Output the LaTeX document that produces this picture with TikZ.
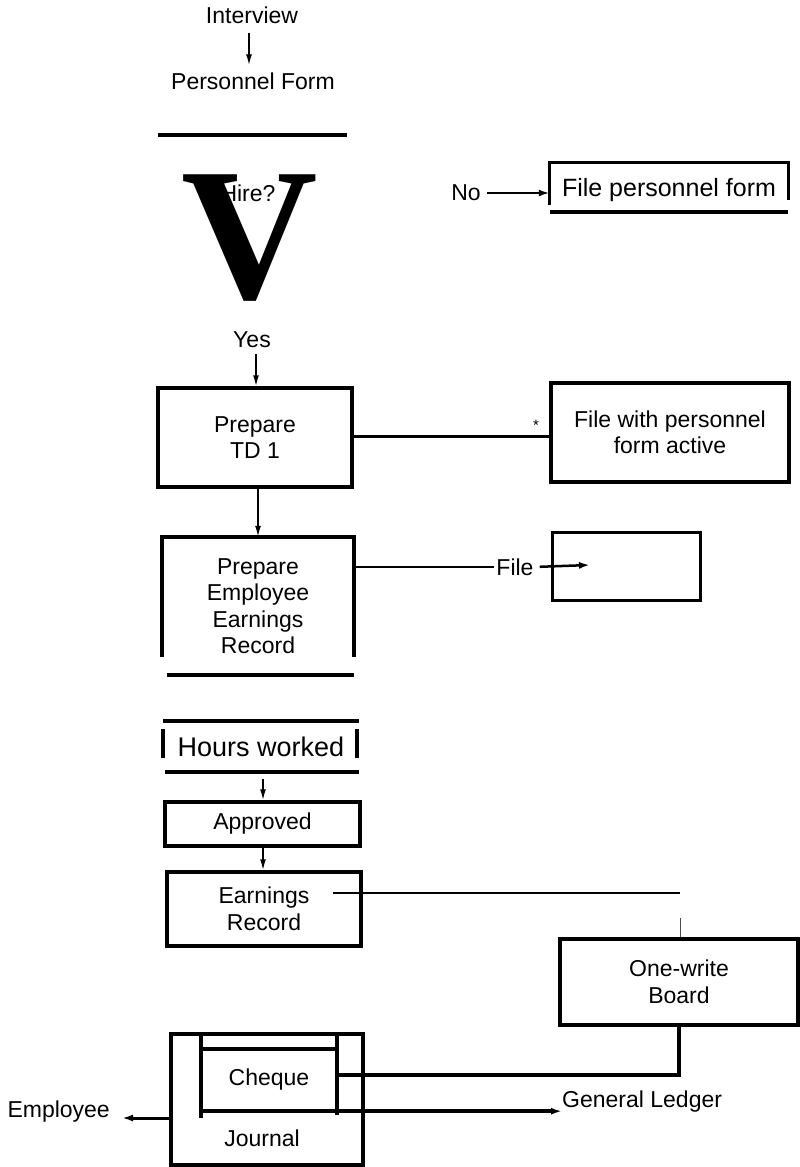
\documentclass[tikz,border=0pt]{standalone}
\usepackage{fontspec}
\setmainfont{Liberation Sans}
\newfontfamily\vfont{Liberation Serif}
\usetikzlibrary{arrows.meta}
\begin{document}
\begin{tikzpicture}[x=1pt,y=-1pt,
  lbl/.style={font=\fontsize{23}{26}\selectfont, inner sep=0pt, align=center},
  frame/.style={draw, line width=3.5pt, inner sep=0pt, align=center, font=\fontsize{23}{26.5}\selectfont},
  ghost/.style={inner sep=0pt, align=center, font=\fontsize{23}{26.5}\selectfont},
  rulel/.style={line width=4.5pt},
  side/.style={line width=3.5pt},
  arr/.style={-{Latex[length=11pt,width=6pt]}, line width=1.6pt},
  barr/.style={-{Latex[length=11pt,width=7pt]}, line width=2.5pt}]
\useasboundingbox (0,0) rectangle (800,1167);

% --- top
\node[lbl] (iv) at (252,15) {Interview};
\node[lbl] (pf) at (253,81) {Personnel Form};
\draw[arr, shorten <=9pt, shorten >=7pt] (iv.south -| 249,0) -- (pf.north -| 249,0);
\draw[rulel] (158,135) -- (347,135);

% --- decision
\node[lbl] (hire) at (248,193) {Hire?};
\node[inner sep=0pt, anchor=base, text height=125pt, text depth=0pt, font=\vfont\bfseries\fontsize{189}{189}\selectfont] (bigv) at (250,298) {V};
\node[lbl] (no) at (466,193) {No};
\node[ghost, minimum width=238pt, minimum height=54pt, font=\fontsize{25}{28}\selectfont] (fpf) at (669,190) {File personnel form};
\draw[side, line width=3pt] ([yshift=12pt]fpf.south west) |- (fpf.north east) -- ([yshift=17pt]fpf.south east);
\draw[rulel] ([yshift=5pt]fpf.south west) -- ([yshift=5pt]fpf.south east);
\draw[barr, line width=2.5pt, shorten <=6pt] (no.east) -- (no.east -| fpf.west);
\node[lbl] (yes) at (252,340) {Yes};

% --- TD1
\node[frame, minimum width=194pt, minimum height=99pt] (td1) at (255,437.5) {Prepare\\TD 1};
\draw[arr, shorten <=6pt] (yes.south -| 256,0) -- (td1.north -| 256,0);
\node[frame, minimum width=238pt, minimum height=99pt] (fwp) at (670,432.5) {File with personnel\\form active};
\draw[line width=3pt] ([yshift=1.5pt]td1.east) -- ([yshift=1.5pt]td1.east -| fwp.west);
\node[lbl, font=\fontsize{15}{15}\selectfont] (ast) at (536,425) {*};

% --- employee earnings record
\node[ghost, minimum width=192pt, minimum height=138pt] (pee) at (258,606) {Prepare\\Employee\\Earnings\\Record};
\draw[arr] (td1.south -| 258,0) -- (pee.north -| 258,0);
\draw[side] ([yshift=18pt]pee.south west) |- (pee.north east) -- ([yshift=18pt]pee.south east);
\draw[rulel] ([xshift=5pt]pee.south west) -- (pee.south east);
\node[lbl] (filel) at (515,567) {File};
\node[draw, line width=3pt, minimum width=148pt, minimum height=68pt] (fbox) at (626,566) {};
\draw[line width=2.2pt] (pee.east |- filel) -- ([xshift=-2pt]filel.west);
\coordinate (fin) at (590,565);
\draw[barr, shorten <=6pt] (filel.east) -- (fin);

% --- hours worked
\node[ghost, minimum width=196pt, minimum height=51pt, font=\fontsize{27}{30}\selectfont] (hw) at (261,746.5) {Hours worked};
\draw[rulel] (hw.north west) -- (hw.north east);
\draw[rulel] ([xshift=2pt]hw.south west) -- (hw.south east);
\draw[side] (163,729) -- (163,758);
\draw[side] (357,729) -- (357,758);

\node[frame, minimum width=195pt, minimum height=44pt] (appr) at (262.5,824) {Approved};
\draw[arr, shorten <=7pt] (hw.south -| 263,0) -- (appr.north -| 263,0);
\node[frame, minimum width=194pt, minimum height=74pt] (er) at (264,909) {Earnings\\Record};
\draw[arr] (appr.south -| 263,0) -- (er.north -| 263,0);
\coordinate (erl) at (333,893);
\coordinate (erend) at (680,893);
\draw[line width=1.6pt] (erl) -- (erend);

% --- one-write board
\node[frame, minimum width=238pt, minimum height=86pt] (owb) at (679,982) {One-write\\Board};
\coordinate (owtop) at (680,918);
\draw[line width=1pt, black!70] (owtop) -- (owtop |- owb.north);

% --- journal / cheque
\node[draw, line width=3.5pt, minimum width=192pt, minimum height=131pt] (jr) at (267,1099.5) {};
\node[lbl] (jtext) at (262,1138) {Journal};
\node[ghost, minimum width=136pt, minimum height=62pt] (chq) at (269,1080) {Cheque};
\draw[side] (chq.south west) -- (chq.south west |- jr.north) ;
\draw[side] ([yshift=-7pt]chq.south west) -- (chq.south west);
\draw[side] ([yshift=-4pt]chq.south east) -- (chq.south east |- jr.north);
\draw[side] (chq.north west) -- (chq.north east);
\draw[side] (owb.south) |- ([yshift=5pt]chq.east);
\node[lbl, anchor=west] (gl) at (562,1102) {General Ledger};
\draw[barr, line width=3.5pt] (chq.south west) -- (chq.south west -| gl.west);
\node[lbl, anchor=east] (emp) at (110,1112) {Employee};
\draw[barr, line width=3pt] ([yshift=-18.5pt]jr.west) -- ([xshift=12pt,yshift=-6pt]emp.east);
\end{tikzpicture}
\end{document}
